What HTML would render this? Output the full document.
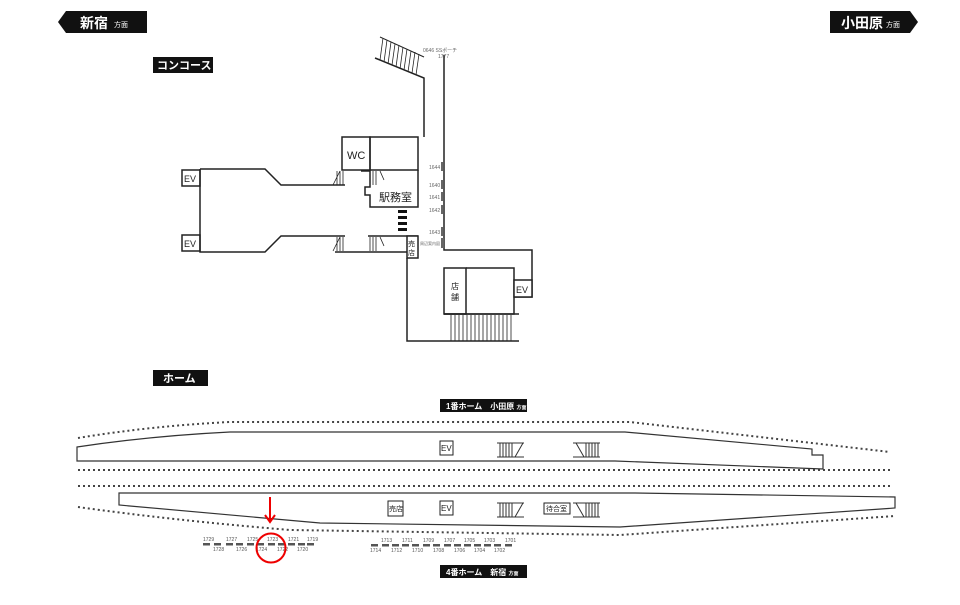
<!DOCTYPE html>
<html><head><meta charset="utf-8"><style>
html,body{margin:0;padding:0;background:#fff;}
svg{display:block;font-family:"Liberation Sans","Noto Sans CJK JP",sans-serif;}
</style></head><body>
<svg width="960" height="605" viewBox="0 0 960 605" xmlns="http://www.w3.org/2000/svg">
<polygon points="58,22 66,11 147,11 147,33 66,33" fill="#111"/>
<text x="80" y="28" fill="#fff" font-size="14" font-weight="bold">新宿</text>
<text x="114" y="27" fill="#fff" font-size="7">方面</text>
<polygon points="830,11 910,11 918,22 910,33 830,33" fill="#111"/>
<text x="841" y="28" fill="#fff" font-size="14" font-weight="bold">小田原</text>
<text x="886" y="27" fill="#fff" font-size="7">方面</text>
<rect x="153" y="57" width="60" height="16" fill="#111"/>
<text x="157" y="69" fill="#fff" font-size="11" font-weight="bold">コンコース</text>
<rect x="153" y="370" width="55" height="16" fill="#111"/>
<text x="163" y="382" fill="#fff" font-size="11" font-weight="bold">ホーム</text>
<rect x="440" y="399" width="87" height="13" fill="#111"/>
<text x="446" y="409" fill="#fff" font-size="8" font-weight="bold">1番ホーム　小田原 <tspan font-size="5">方面</tspan></text>
<rect x="440" y="565" width="87" height="13" fill="#111"/>
<text x="446" y="575" fill="#fff" font-size="8" font-weight="bold">4番ホーム　新宿 <tspan font-size="5">方面</tspan></text>

<g fill="none" stroke="#222" stroke-width="1.5">
<rect x="182" y="170" width="18" height="16" fill="#fff"/>
<rect x="182" y="235" width="18" height="16" fill="#fff"/>
<polyline points="200,169 265,169 281,185 345,185"/>
<polyline points="200,169 200,252 265,252 281,236 345,236"/>
<polyline points="335,252 418,252"/>
<rect x="342" y="137" width="28" height="33"/>
<rect x="370" y="137" width="48" height="33"/>
<polyline points="370,170 370,187 365,187 365,195 370,195 370,207 418,207 418,170"/>
<polyline points="361,171 370,171"/>
<polyline points="368,236 418,236"/>
<rect x="407" y="236" width="11" height="22" fill="#fff"/>
<polyline points="407,258 407,341 519,341"/>
<polyline points="375,58 424,78 424,137"/>
<polyline points="444,55 444,250 532,250 532,297 514,297"/>
<rect x="444" y="268" width="22" height="46"/>
<polyline points="466,268 514,268 514,314 444,314"/>
<rect x="514" y="280" width="18" height="17" fill="#fff"/>
<polyline points="444,314 519,314"/>
</g>
<g stroke="#222" stroke-width="0.8">
<path d="M337,171V185M340,171V185M343,171V185M337,237V251M340,237V251M343,237V251M370,171V185M373,171V185M376,171V185M370,237V251M373,237V251M376,237V251M333,185L340,171M333,251L340,237M380,171L384,180M380,237L384,246"/>
<path d="M380,37L424,57" stroke-width="1"/>
<path d="M383,38L380,60M387,40L384,62M391,42L388,64M395,44L392,65M399,45L396,67M403,47L400,69M407,49L404,70M411,51L408,72M415,52L412,73M419,54L416,75"/>
<path d="M451,315V341M455,315V341M459,315V341M463,315V341M467,315V341M471,315V341M475,315V341M479,315V341M483,315V341M487,315V341M491,315V341M495,315V341M499,315V341M503,315V341M507,315V341M511,315V341"/>
</g>
<rect x="398" y="210" width="9" height="3" fill="#111"/>
<rect x="398" y="216" width="9" height="3" fill="#111"/>
<rect x="398" y="222" width="9" height="3" fill="#111"/>
<rect x="398" y="228" width="9" height="3" fill="#111"/>
<g fill="#666">
<rect x="441" y="162" width="2" height="9"/><rect x="441" y="180" width="2" height="9"/><rect x="441" y="192" width="2" height="9"/><rect x="441" y="205" width="2" height="9"/><rect x="441" y="227" width="2" height="9"/><rect x="441" y="238" width="3" height="10"/>
</g>
<g font-size="5" fill="#666">
<text x="429" y="169">1644</text><text x="429" y="187">1640</text><text x="429" y="199">1641</text><text x="429" y="212">1642</text><text x="429" y="234">1643</text><text x="420" y="245" font-size="4">周辺案内図</text>
<text x="423" y="52">0646 SSポーチ</text><text x="438" y="58">1777</text>
</g>
<g font-size="9" fill="#222">
<text x="184" y="182">EV</text><text x="184" y="247">EV</text><text x="516" y="293">EV</text>
<text x="347" y="159" font-size="11">WC</text>
<text x="379" y="201" font-size="11">駅務室</text>
<text x="408" y="246" font-size="7">売</text><text x="408" y="255" font-size="7">店</text>
<text x="451" y="289" font-size="8">店</text><text x="451" y="300" font-size="8">舗</text>
</g>

<g fill="none" stroke="#444" stroke-width="2" stroke-dasharray="2,3">
<path d="M78,438 Q150,426 230,422 L630,422 L890,452"/>
<path d="M78,470 H890"/>
<path d="M78,486 H890"/>
<path d="M78,507 Q170,520 290,530 L620,535 L895,516"/>
</g>
<g fill="none" stroke="#333" stroke-width="1.2">
<path d="M77,447 Q150,436 230,432 L625,432 L812,449 L812,455 L823,455 L823,469 L615,461 L77,461 Z"/>
<path d="M119,493 L635,493 L895,497 L895,508 L620,527 L320,523 Q200,512 119,505 Z"/>
</g>
<g font-size="8" fill="#222" stroke="#222" stroke-width="1">
<rect x="440" y="441" width="13" height="14" fill="#fff"/><text x="441" y="451" stroke="none">EV</text>
<rect x="440" y="501" width="13" height="14" fill="#fff"/><text x="441" y="511" stroke="none">EV</text>
<rect x="388" y="501" width="15" height="15" fill="#fff"/><text x="389" y="511" stroke="none" font-size="7">売店</text>
<rect x="544" y="503" width="26" height="11" fill="#fff"/><text x="546" y="511" stroke="none" font-size="7">待合室</text>
</g>
<g stroke="#333" stroke-width="1">
<path d="M497,443H524M497,457H524M573,443H600M573,457H600M497,503H524M497,517H524M573,503H600M573,517H600"/>
<path d="M500,443V457M503,443V457M506,443V457M509,443V457M512,443V457M515,457L523,443 M500,503V517M503,503V517M506,503V517M509,503V517M512,503V517M515,517L523,503"/>
<path d="M586,443V457M589,443V457M592,443V457M595,443V457M598,443V457M576,443L584,457 M586,503V517M589,503V517M592,503V517M595,503V517M598,503V517M576,503L584,517"/>
</g>
<g fill="#555">
<rect x="203" y="543" width="7" height="2.5"/><rect x="214" y="543" width="7" height="2.5"/><rect x="226" y="543" width="7" height="2.5"/><rect x="236" y="543" width="7" height="2.5"/><rect x="247" y="543" width="7" height="2.5"/><rect x="257" y="543" width="7" height="2.5"/><rect x="268" y="543" width="7" height="2.5"/><rect x="278" y="543" width="7" height="2.5"/><rect x="288" y="543" width="7" height="2.5"/><rect x="298" y="543" width="7" height="2.5"/><rect x="307" y="543" width="7" height="2.5"/>
<rect x="371" y="544" width="7" height="2.5"/><rect x="382" y="544" width="7" height="2.5"/><rect x="392" y="544" width="7" height="2.5"/><rect x="402" y="544" width="7" height="2.5"/><rect x="412" y="544" width="7" height="2.5"/><rect x="423" y="544" width="7" height="2.5"/><rect x="433" y="544" width="7" height="2.5"/><rect x="444" y="544" width="7" height="2.5"/><rect x="454" y="544" width="7" height="2.5"/><rect x="464" y="544" width="7" height="2.5"/><rect x="474" y="544" width="7" height="2.5"/><rect x="484" y="544" width="7" height="2.5"/><rect x="494" y="544" width="7" height="2.5"/><rect x="505" y="544" width="7" height="2.5"/>
</g>
<g font-size="5" fill="#555">
<text x="203" y="541">1729</text><text x="226" y="541">1727</text><text x="247" y="541">1725</text><text x="267" y="541">1723</text><text x="288" y="541">1721</text><text x="307" y="541">1719</text>
<text x="213" y="551">1728</text><text x="236" y="551">1726</text><text x="256" y="551">1724</text><text x="277" y="551">1722</text><text x="297" y="551">1720</text>
<text x="381" y="542">1713</text><text x="402" y="542">1711</text><text x="423" y="542">1709</text><text x="444" y="542">1707</text><text x="464" y="542">1705</text><text x="484" y="542">1703</text><text x="505" y="542">1701</text>
<text x="370" y="552">1714</text><text x="391" y="552">1712</text><text x="412" y="552">1710</text><text x="433" y="552">1708</text><text x="454" y="552">1706</text><text x="474" y="552">1704</text><text x="494" y="552">1702</text>
</g>
<g stroke="#e00" stroke-width="2" fill="none">
<path d="M270,497V521M265,515L270,522L275,515"/>
<circle cx="271" cy="548" r="14.5"/>
</g>
</svg>
</body></html>
